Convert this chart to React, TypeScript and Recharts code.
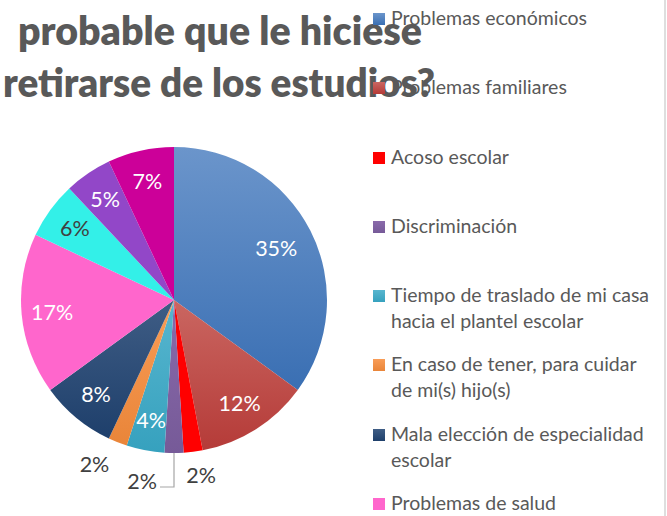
import { PieChart, Pie, Cell, Legend } from "recharts";

const categories = [
  "Problemas económicos",
  "Problemas familiares",
  "Acoso escolar",
  "Discriminación",
  "Tiempo de traslado de mi casa hacia el plantel escolar",
  "En caso de tener, para cuidar de mi(s) hijo(s)",
  "Mala elección de especialidad escolar",
  "Problemas de salud",
  "Otro motivo 1",
  "Otro motivo 2",
  "Otro motivo 3",
];

const values = [35, 12, 2, 2, 4, 2, 8, 17, 6, 5, 7];

const titleLines = ["probable que le hiciese", "retirarse de los estudios?"];

// top / bottom colours of each slice gradient
const topColors = [
  "#6b95cb", "#ca6661", "#ff0000", "#8a6aab", "#58b6cf", "#f99d57",
  "#3f5d85", "#ff66cc", "#33f0e8", "#9247c8", "#cc0099",
];
const bottomColors = [
  "#3a6fb3", "#b53b38", "#ff0000", "#765a98", "#36a1be", "#e98539",
  "#1e3f6b", "#ff66cc", "#33f0e8", "#9247c8", "#cc0099",
];

const data = categories.map((name, i) => ({ name, value: values[i] }));

const FONT = "Lato, 'Open Sans', sans-serif";
const RAD = Math.PI / 180;
const HEIGHT = 516;
const LEGEND_TOP = 5;
const LEGEND_STEP = 69.3;

const renderLabel = (p: any) => {
  const { cx, cy, midAngle, outerRadius, percent, index } = p;
  const cos = Math.cos(-midAngle * RAD);
  const sin = Math.sin(-midAngle * RAD);
  const text = `${Math.round(percent * 100)}%`;
  if (percent > 0.025) {
    const r = outerRadius * (percent > 0.3 ? 0.75 : 0.8);
    return (
      <text
        x={cx + r * cos}
        y={cy + r * sin}
        fill={index === 8 ? "#404040" : "#ffffff"}
        textAnchor="middle"
        dominantBaseline="central"
        fontSize={21.5}
        fontFamily={FONT}
      >
        {text}
      </text>
    );
  }
  if (index === 3) {
    // label pushed aside, joined by a leader line
    const sx = cx + outerRadius * cos;
    const sy = cy + outerRadius * sin;
    return (
      <g>
        <polyline
          points={`${sx},${sy} ${sx},${sy + 34} ${sx - 14},${sy + 34}`}
          fill="none"
          stroke="#a6a6a6"
          strokeWidth={1.2}
        />
        <text
          x={sx - 17}
          y={sy + 28}
          fill="#404040"
          textAnchor="end"
          dominantBaseline="central"
          fontSize={21.5}
          fontFamily={FONT}
        >
          {text}
        </text>
      </g>
    );
  }
  const r = outerRadius + 23;
  return (
    <text
      x={cx + r * cos + 40 * cos}
      y={cy + r * sin}
      fill="#404040"
      textAnchor="middle"
      dominantBaseline="central"
      fontSize={21.5}
      fontFamily={FONT}
    >
      {text}
    </text>
  );
};

// only the entries whose first line still lies inside the picture are shown
const LegendList = () => (
  <div style={{ fontFamily: FONT, fontSize: 19.5, color: "#595959" }}>
    {categories
      .filter((_, i) => LEGEND_TOP + i * LEGEND_STEP + 13 < HEIGHT)
      .map((name, i) => (
        <div key={`leg-${i}`} style={{ height: LEGEND_STEP, display: "flex", alignItems: "flex-start" }}>
          <span
            style={{
              width: 12,
              height: 12,
              marginTop: 8,
              marginRight: 6,
              flexShrink: 0,
              background: `linear-gradient(${topColors[i]}, ${bottomColors[i]})`,
            }}
          />
          <span style={{ width: 266, lineHeight: "26px" }}>{name}</span>
        </div>
      ))}
  </div>
);

export default function App() {
  return (
    <div
      style={{
        position: "absolute",
        left: 0,
        top: 0,
        width: 667,
        height: HEIGHT,
        overflow: "hidden",
        background: "#ffffff",
      }}
    >
      <svg width={667} height={120} style={{ position: "absolute", left: 0, top: 0 }}>
        <text
          x={18}
          y={45}
          fill="#595959"
          fontSize={40}
          fontWeight={800}
          fontFamily={FONT}
          textLength={404}
          lengthAdjust="spacingAndGlyphs"
        >
          {titleLines[0]}
        </text>
        <text
          x={3}
          y={97}
          fill="#595959"
          fontSize={40}
          fontWeight={800}
          fontFamily={FONT}
          textLength={432}
          lengthAdjust="spacingAndGlyphs"
        >
          {titleLines[1]}
        </text>
      </svg>
      <PieChart width={667} height={HEIGHT} margin={{ top: 0, right: 0, bottom: 0, left: 0 }}>
        <defs>
          {topColors.map((c, i) => (
            <linearGradient key={`g-${i}`} id={`slice-${i}`} x1="0" y1="0" x2="0" y2="1">
              <stop offset="0%" stopColor={c} />
              <stop offset="100%" stopColor={bottomColors[i]} />
            </linearGradient>
          ))}
        </defs>
        <Pie
          data={data}
          dataKey="value"
          nameKey="name"
          cx={174}
          cy={300}
          outerRadius={153}
          startAngle={90}
          endAngle={-270}
          label={renderLabel}
          labelLine={false}
          isAnimationActive={false}
        >
          {data.map((_, idx) => (
            <Cell key={`cell-${idx}`} fill={`url(#slice-${idx})`} stroke="none" />
          ))}
        </Pie>
        <Legend
          layout="vertical"
          verticalAlign="top"
          align="right"
          wrapperStyle={{ left: 373, top: LEGEND_TOP, width: 292 }}
          content={() => <LegendList />}
        />
      </PieChart>
      <div
        style={{
          position: "absolute",
          left: 664,
          top: 0,
          width: 2,
          height: HEIGHT,
          background: "#dedede",
        }}
      />
    </div>
  );
}
